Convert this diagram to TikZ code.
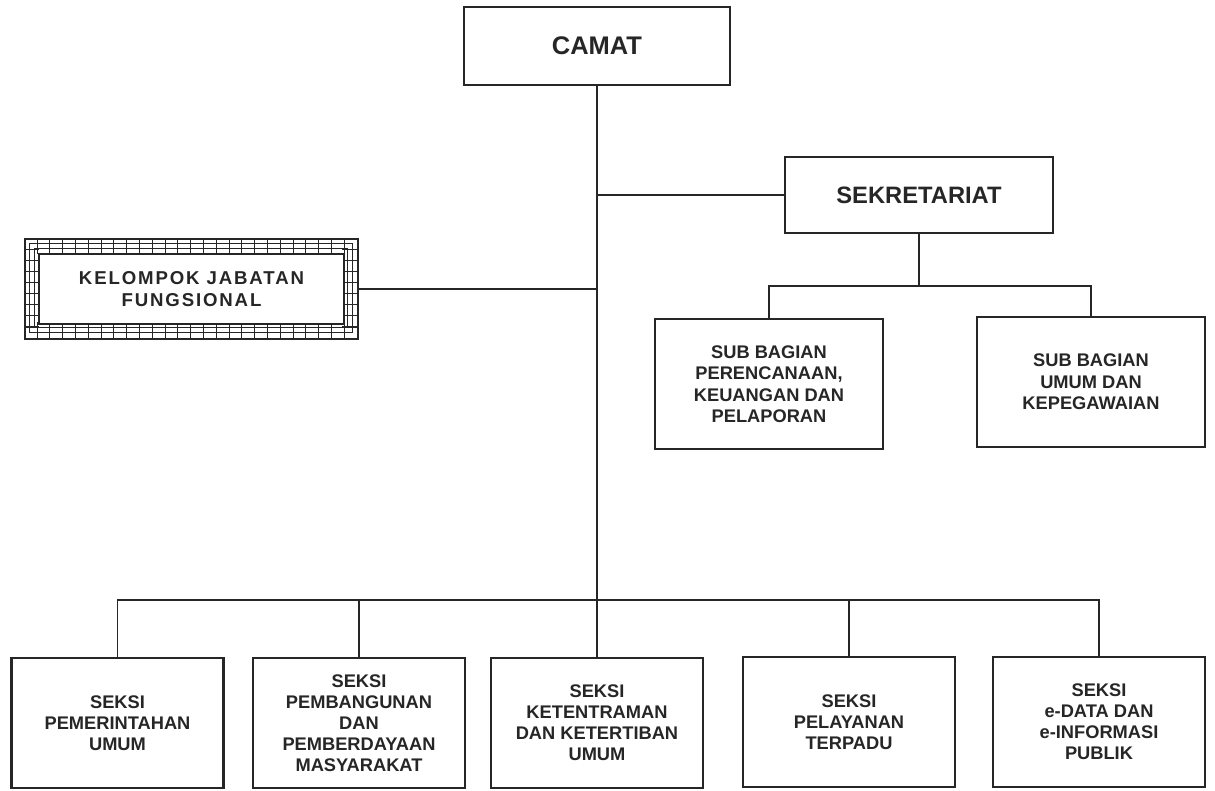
\documentclass[tikz,border=0pt]{standalone}
\usepackage{fontspec}
\setmainfont{Liberation Sans}
\usepackage{xcolor}
\usepackage{tikz}
\usetikzlibrary{positioning, calc}
\definecolor{ink}{HTML}{262626}

\begin{document}
\begin{tikzpicture}[
    x=0.02cm, y=-0.02cm,
    box/.style={draw=ink, line width=1.2pt, fill=white, align=center, text=ink, inner sep=2pt},
    head/.style={box, minimum width=5.32cm, minimum height=1.56cm},
    subbox/.style={box, minimum width=4.56cm, minimum height=2.6cm, font=\bfseries\fontsize{10.4}{12.2}\selectfont},
    seksi/.style={box, minimum width=4.24cm, minimum height=2.6cm, font=\bfseries\fontsize{10.4}{12}\selectfont},
    link/.style={draw=ink, line width=1.1pt},
    hatch/.style={draw=ink, line width=0.6pt}
]
\useasboundingbox[fill=white] (0,0) rectangle (1215,791);

\node[head, font=\bfseries\fontsize{14.5}{16}\selectfont] (camat) at (597,46) {CAMAT};
\node[head, minimum width=5.36cm, minimum height=1.52cm, font=\bfseries\fontsize{13.5}{15}\selectfont] (sekr) at (919,195) {SEKRETARIAT};

\node[subbox] (sbperenc) at (769,384) {SUB BAGIAN\\PERENCANAAN,\\KEUANGAN DAN\\PELAPORAN};
\node[subbox] (sbumum) at (1091,382) {SUB BAGIAN\\UMUM DAN\\KEPEGAWAIAN};

\node[draw=ink, line width=0.9pt, minimum width=6.66cm, minimum height=2cm] (kjf) at (191.5,289) {};
\begin{scope}[shift={(kjf.north west)}]
  \foreach \i in {1,...,25}
    \draw[hatch] (\i*12.8,0) -- ++(0,16) (\i*12.8,100) -- ++(0,-16);
  \foreach \j in {1,...,8}
    \draw[hatch] (0,\j*11.1) -- ++(15,0) (333,\j*11.1) -- ++(-15,0);
  \draw[hatch] (5,5.3) rectangle (328,94.7);
  \draw[hatch] (10,10.7) rectangle (323,89.3);
\end{scope}
\draw[ink, line width=1.3pt, fill=white] ([shift={(15,16)}]kjf.north west) rectangle ([shift={(-15,-16)}]kjf.south east);
\node[text=ink, align=center, font=\bfseries\fontsize{10.6}{12.8}\selectfont\addfontfeature{LetterSpace=10}] (kjftext) at (kjf.center) {KELOMPOK JABATAN\\FUNGSIONAL};

\node[seksi] (pemerintahan) at (117.5,723) {SEKSI\\PEMERINTAHAN\\UMUM};
\node[seksi] (pembangunan) at (359,723) {SEKSI\\PEMBANGUNAN\\DAN\\PEMBERDAYAAN\\MASYARAKAT};
\node[seksi] (ketentraman) at (597,723) {SEKSI\\KETENTRAMAN\\DAN KETERTIBAN\\UMUM};
\node[seksi] (pelayanan) at (849,722) {SEKSI\\PELAYANAN\\TERPADU};
\node[seksi] (edata) at (1099,722) {SEKSI\\e-DATA DAN\\e-INFORMASI\\PUBLIK};

\path (sbperenc.north) ++(0,-32) coordinate (sbar);
\path (pemerintahan.north) ++(0,-57) coordinate (bbar);

\draw[link] (camat.south) -- (ketentraman.north);
\draw[link] (camat.south |- sekr.west) -- (sekr.west);
\draw[link] (kjf.east) -- (kjf.east -| camat.south);
\draw[link] (sekr.south) -- (sekr.south |- sbar);
\draw[link] (sbperenc.north) -- (sbar) -| (sbumum.north);
\draw[link] (pemerintahan.north) -- (bbar) -| (edata.north);
\draw[link] (pembangunan.north) -- (pembangunan.north |- bbar);
\draw[link] (pelayanan.north) -- (pelayanan.north |- bbar);

\end{tikzpicture}
\end{document}
